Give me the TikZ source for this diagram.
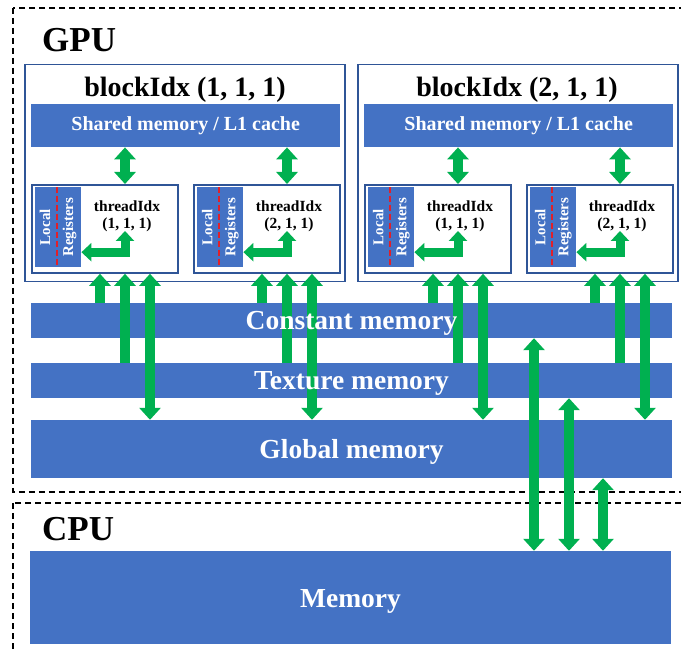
\documentclass[tikz,border=0pt]{standalone}
\usepackage{fontspec}
\setmainfont{Liberation Serif}
\usetikzlibrary{arrows.meta,calc}

\definecolor{barblue}{HTML}{4472C4}
\definecolor{arrowgreen}{HTML}{00B050}
\definecolor{boxblue}{HTML}{2F5597}
\definecolor{regred}{HTML}{E0202A}

\tikzset{
	dashbox/.style={draw=black, line width=1.5pt, dash pattern=on 6pt off 4pt},
	bigname/.style={anchor=west, inner sep=0pt, font=\fontsize{35}{40}\selectfont\bfseries},
	blockbox/.style={draw=boxblue, line width=1.5pt, minimum width=320pt, minimum height=217pt, anchor=north west, inner sep=0pt},
	blockname/.style={anchor=base, inner sep=0pt, font=\fontsize{28}{32}\selectfont\bfseries},
	sharedbar/.style={fill=barblue, text=white, minimum width=309pt, minimum height=43pt, anchor=north west, inner sep=0pt, font=\fontsize{20}{24}\selectfont\bfseries},
	threadbox/.style={draw=boxblue, line width=1.8pt, fill=white, minimum width=146pt, minimum height=88pt, anchor=north west, inner sep=0pt},
	regbox/.style={fill=barblue, minimum width=46pt, minimum height=80pt, anchor=north west, inner sep=0pt},
	regline/.style={draw=regred, line width=2pt, dash pattern=on 6pt off 3pt},
	reglabel/.style={rotate=90, text=white, align=center, inner sep=0pt, font=\fontsize{15}{23}\selectfont\bfseries},
	idxlabel/.style={align=center, inner sep=0pt, font=\fontsize{15.5}{17}\selectfont\bfseries},
	membar/.style={fill=barblue, minimum width=641pt, inner sep=0pt},
	memtext/.style={anchor=base, text=white, inner sep=0pt, font=\fontsize{27.5}{30}\selectfont\bfseries},
	gup/.style={draw=arrowgreen, line width=10pt, arrows={-Triangle[width=21pt,length=12pt]}},
	gboth/.style={draw=arrowgreen, line width=10pt, arrows={Triangle[width=21pt,length=12pt]-Triangle[width=21pt,length=12pt]}},
	elbow/.style={draw=arrowgreen, line width=9pt, arrows={Triangle[width=18pt,length=10pt]-Triangle[width=18pt,length=10pt]}}
}

\begin{document}
\begin{tikzpicture}[x=1pt, y=-1pt]
	\useasboundingbox (0,0) rectangle (681,652);
	\clip (0,0) rectangle (681,652);

	% GPU and CPU
	\draw[dashbox] (13,8) rectangle (700,492);
	\draw[dashbox] (13,503) rectangle (700,670);
	\node[bigname] (gpu) at (42,40) {GPU};
	\node[bigname] (cpu) at (42,529) {CPU};

	% blocks
	\node[blockbox] (b1) at (24,64) {};
	\node[blockbox] (b2) at (357,64) {};
	\node[blockname] (b1name) at (185,97) {blockIdx (1, 1, 1)};
	\node[blockname] (b2name) at (517,97) {blockIdx (2, 1, 1)};
	\node[sharedbar] (sh1) at (31,104) {Shared memory / L1 cache};
	\node[sharedbar] (sh2) at (364,104) {Shared memory / L1 cache};

	% threads
	\node[threadbox] (t11) at (31,184) {};
	\node[threadbox] (t12) at (193,184) {};
	\node[threadbox] (t21) at (364,184) {};
	\node[threadbox] (t22) at (526,184) {};

	\node[regbox] (reg11) at (35,187) {};
	\node[regbox] (reg12) at (197,187) {};
	\node[regbox] (reg21) at (368,187) {};
	\node[regbox] (reg22) at (530,187) {};

	\draw[regline] ([xshift=22pt]reg11.north west) -- ([xshift=22pt]reg11.south west);
	\draw[regline] ([xshift=22pt]reg12.north west) -- ([xshift=22pt]reg12.south west);
	\draw[regline] ([xshift=22pt]reg21.north west) -- ([xshift=22pt]reg21.south west);
	\draw[regline] ([xshift=22pt]reg22.north west) -- ([xshift=22pt]reg22.south west);

	\node[reglabel] (lr11) at (reg11.center) {Local\\Registers};
	\node[reglabel] (lr12) at (reg12.center) {Local\\Registers};
	\node[reglabel] (lr21) at (reg21.center) {Local\\Registers};
	\node[reglabel] (lr22) at (reg22.center) {Local\\Registers};

	\node[idxlabel] (ix11) at (127,216) {threadIdx\\(1, 1, 1)};
	\node[idxlabel] (ix12) at (289,216) {threadIdx\\(2, 1, 1)};
	\node[idxlabel] (ix21) at (460,216) {threadIdx\\(1, 1, 1)};
	\node[idxlabel] (ix22) at (622,216) {threadIdx\\(2, 1, 1)};

	% memories
	\node[membar, minimum height=35pt] (const) at (351.5,320.5) {};
	\node[membar, minimum height=35pt] (tex) at (351.5,380.5) {};
	\node[membar, minimum height=58pt] (glob) at (351.5,449) {};
	\node[membar, minimum height=93pt] (mem) at (350.5,597.5) {};

	% arrow points
	\path (t11.north west) ++(94,47) coordinate (e11);
	\path (t12.north west) ++(94,47) coordinate (e12);
	\path (t21.north west) ++(94,47) coordinate (e21);
	\path (t22.north west) ++(94,47) coordinate (e22);
	\path (t11.south west) ++(69,0) coordinate (a11) ++(25,0) coordinate (m11) ++(25,0) coordinate (d11);
	\path (t12.south west) ++(69,0) coordinate (a12) ++(25,0) coordinate (m12) ++(25,0) coordinate (d12);
	\path (t21.south west) ++(69,0) coordinate (a21) ++(25,0) coordinate (m21) ++(25,0) coordinate (d21);
	\path (t22.south west) ++(69,0) coordinate (a22) ++(25,0) coordinate (m22) ++(25,0) coordinate (d22);

	\draw[gboth] (m11 |- sh1.south) -- (m11 |- t11.north);
	\draw[gboth] (m12 |- sh1.south) -- (m12 |- t12.north);
	\draw[gboth] (m21 |- sh2.south) -- (m21 |- t21.north);
	\draw[gboth] (m22 |- sh2.south) -- (m22 |- t22.north);

	\draw[elbow] (e11) |- ([yshift=-25pt]reg11.east);
	\draw[elbow] (e12) |- ([yshift=-25pt]reg12.east);
	\draw[elbow] (e21) |- ([yshift=-25pt]reg21.east);
	\draw[elbow] (e22) |- ([yshift=-25pt]reg22.east);

	\draw[gup] (a11 |- const.north) -- (a11);
	\draw[gup] (m11 |- tex.north) -- (m11);
	\draw[gboth] (d11) -- (d11 |- glob.north);
	\draw[gup] (a12 |- const.north) -- (a12);
	\draw[gup] (m12 |- tex.north) -- (m12);
	\draw[gboth] (d12) -- (d12 |- glob.north);
	\draw[gup] (a21 |- const.north) -- (a21);
	\draw[gup] (m21 |- tex.north) -- (m21);
	\draw[gboth] (d21) -- (d21 |- glob.north);
	\draw[gup] (a22 |- const.north) -- (a22);
	\draw[gup] (m22 |- tex.north) -- (m22);
	\draw[gboth] (d22) -- (d22 |- glob.north);

	% host side
	\coordinate (h1) at (534,0);
	\coordinate (h2) at (569,0);
	\coordinate (h3) at (603,0);
	\draw[gboth] (h1 |- const.south) -- (h1 |- mem.north);
	\draw[gboth] (h2 |- tex.south) -- (h2 |- mem.north);
	\draw[gboth] (h3 |- glob.south) -- (h3 |- mem.north);

	\node[memtext] (consttext) at (351.5,330) {Constant memory};
	\node[memtext] (textext) at (351.5,390) {Texture memory};
	\node[memtext] (globtext) at (351.5,459) {Global memory};
	\node[memtext] (memtext) at (350.5,608) {Memory};
\end{tikzpicture}
\end{document}
